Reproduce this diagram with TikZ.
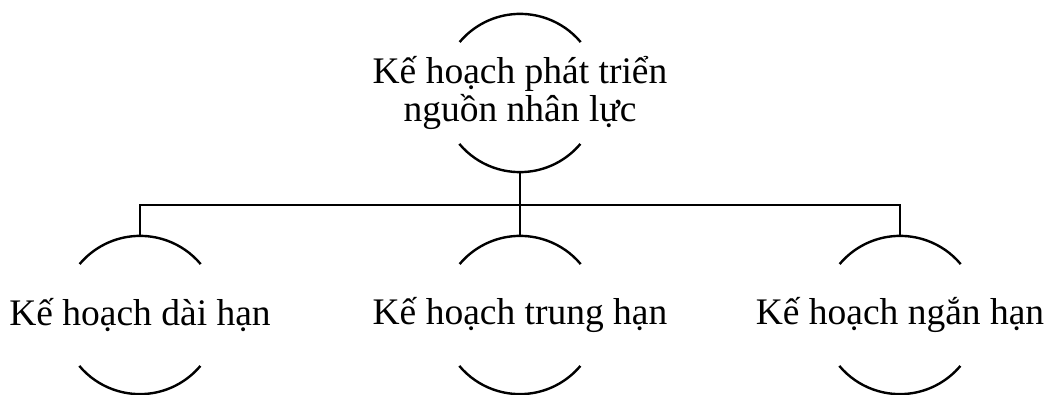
\documentclass[tikz,border=0pt]{standalone}
\usepackage{fontspec}
\setmainfont{Liberation Serif}
\usetikzlibrary{positioning}

\begin{document}
\begin{tikzpicture}[
    x=1pt, y=1pt,
    plan/.style={align=center, inner sep=0pt, font=\fontsize{37.5}{38.5}\selectfont},
    ring/.style={circle, minimum size=158pt, inner sep=0pt},
    rim/.style={line width=2.4pt},
    link/.style={line width=2.4pt},
  ]
  \useasboundingbox (0,0) rectangle (1047,394);

  % Rings
  \node[ring] (rootring) at (520,301) {};
  \node[ring] (midring) at (520,79) {};
  \node[ring] (longring) at (140,79) {};
  \node[ring] (shortring) at (900,79) {};

  % Texts
  \node[plan] (root) at (rootring) {Kế hoạch phát triển\\nguồn nhân lực};
  \node[plan] (long) at (longring) {Kế hoạch dài hạn};
  \node[plan] (mid) at (midring) {Kế hoạch trung hạn};
  \node[plan] (short) at (shortring) {Kế hoạch ngắn hạn};

  % Arcs above and below each text
  \foreach \r in {rootring, longring, midring, shortring}
    \draw[rim] (\r.40) arc[start angle=40, end angle=140, radius=79]
               (\r.220) arc[start angle=220, end angle=320, radius=79];

  % Links
  \draw[link] (rootring.south) -- ++(0,-33) coordinate (bar);
  \draw[link] (bar) -| (longring.north);
  \draw[link] (bar) -- (midring.north);
  \draw[link] (bar) -| (shortring.north);

\end{tikzpicture}
\end{document}
